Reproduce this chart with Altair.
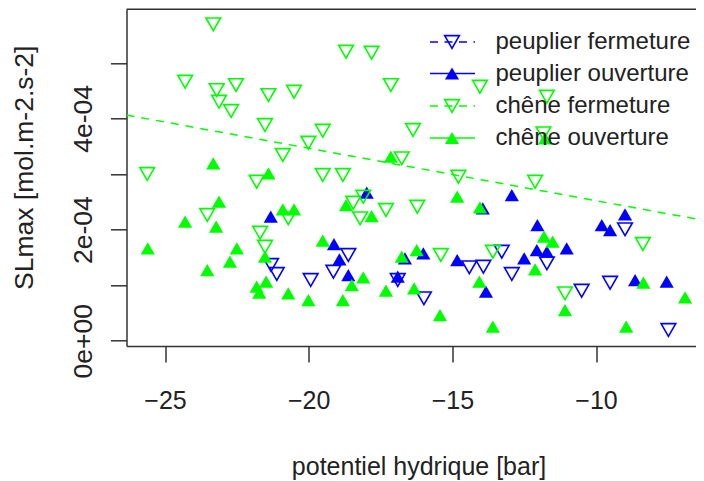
import altair as alt
import pandas as pd

# ---- data (x: potentiel hydrique [bar], y: SLmax [mol.m-2.s-2]) ----
pf_x = [-8.99, -13.28, -14.41, -13.92, -11.71, -12.93, -9.51, -10.50, -15.99, -7.48,
        -21.31, -21.11, -19.93, -19.14, -18.62, -16.90]
pf_y = [2.005e-4, 1.602e-4, 1.321e-4, 1.332e-4, 1.393e-4, 1.200e-4, 1.044e-4, 0.900e-4, 0.763e-4, 0.193e-4,
        1.362e-4, 1.200e-4, 1.092e-4, 1.242e-4, 1.542e-4, 1.092e-4]

po_x = [-12.93, -13.94, -12.04, -9.80, -9.51, -8.99, -11.02, -12.06, -11.71, -12.50, -14.83,
        -16.01, -16.65, -13.83, -8.64, -7.54, -21.32, -17.98, -19.12, -18.93, -18.62, -16.90]
po_y = [2.622e-4, 2.383e-4, 2.082e-4, 2.082e-4, 1.992e-4, 2.275e-4, 1.663e-4, 1.632e-4, 1.602e-4, 1.483e-4, 1.452e-4,
        1.573e-4, 1.483e-4, 0.882e-4, 1.092e-4, 1.062e-4, 2.231e-4, 2.663e-4, 1.740e-4, 1.465e-4, 1.182e-4, 1.152e-4]

cf_x = [-23.32, -18.70, -17.81, -24.30, -23.20, -22.53, -21.40, -20.51, -17.14, -23.12,
        -22.70, -21.52, -19.51, -20.01, -20.90, -16.76, -25.62, -21.81, -19.51, -18.81,
        -16.37, -14.04, -11.71, -11.83, -14.79, -12.12, -16.22, -15.40, -13.59, -8.37,
        -11.08, -23.53, -20.71, -21.69, -21.52, -18.45, -18.10, -18.21, -17.31]
cf_y = [5.694e-4, 5.201e-4, 5.183e-4, 4.661e-4, 4.511e-4, 4.601e-4, 4.421e-4, 4.481e-4, 4.601e-4, 4.301e-4,
        4.134e-4, 3.882e-4, 3.779e-4, 3.563e-4, 3.342e-4, 3.282e-4, 3.000e-4, 2.861e-4, 2.982e-4, 2.982e-4,
        3.792e-4, 4.571e-4, 4.391e-4, 3.732e-4, 2.951e-4, 2.861e-4, 2.411e-4, 1.542e-4, 1.602e-4, 1.740e-4,
        0.853e-4, 2.262e-4, 2.203e-4, 1.943e-4, 1.692e-4, 2.483e-4, 2.591e-4, 2.203e-4, 2.352e-4]

co_x = [-23.32, -21.40, -17.14, -11.77, -14.83, -14.04, -11.81, -11.51, -16.24, -16.76,
        -14.06, -12.12, -16.33, -15.43, -13.59, -11.08, -8.35, -6.90, -8.95, -23.12,
        -24.30, -23.22, -25.60, -22.50, -22.74, -23.53, -20.90, -20.51, -21.52, -21.48,
        -21.81, -21.72, -20.71, -20.01, -19.51, -18.70, -17.81, -18.10, -18.50, -18.81, -17.31]
co_y = [3.192e-4, 3.012e-4, 3.311e-4, 3.642e-4, 2.591e-4, 2.401e-4, 1.872e-4, 1.782e-4, 1.632e-4, 1.512e-4,
        1.062e-4, 1.285e-4, 0.943e-4, 0.462e-4, 0.252e-4, 0.552e-4, 1.044e-4, 0.781e-4, 0.252e-4, 2.501e-4,
        2.141e-4, 2.051e-4, 1.663e-4, 1.663e-4, 1.422e-4, 1.272e-4, 2.365e-4, 2.365e-4, 1.512e-4, 1.062e-4,
        0.972e-4, 0.864e-4, 0.853e-4, 0.732e-4, 1.800e-4, 2.442e-4, 2.244e-4, 1.141e-4, 1.002e-4, 0.732e-4, 0.900e-4]

# regression line (chêne fermeture), read at the plot edges
fit_x = [-26.34, -6.52]
fit_y = [4.062e-4, 2.191e-4]

series_names = ["peuplier fermeture", "peuplier ouverture", "chêne fermeture", "chêne ouverture"]
series_colors = ["#0000ff", "#0000ff", "#00ff00", "#00ff00"]
series_filled = [False, True, False, True]
series_dashed = [True, False, True, False]

x_ticks = [-25, -20, -15, -10]
y_ticks = [0, 1e-4, 2e-4, 3e-4, 4e-4, 5e-4]
y_tick_labels = ["0e+00", "", "2e-04", "", "4e-04", ""]

x_domain = [-26.34, -6.52]
y_domain = [-0.0954e-4, 5.964e-4]

W, H = 569.5, 336.7
FONT = "Liberation Sans"
TXT = "#222222"
AX = "#333333"

label_expr = ""
for v, lab in zip(y_ticks, y_tick_labels):
    label_expr += f"abs(datum.value - ({v})) < 1e-9 ? '{lab}' : "
label_expr += "''"

xs = alt.X("x:Q", scale=alt.Scale(domain=x_domain, nice=False, zero=False),
           axis=alt.Axis(values=x_ticks, title="potentiel hydrique [bar]", grid=False,
                         domainColor=AX, domainWidth=1.5, tickColor=AX, tickWidth=1.5, tickSize=16,
                         labelFont=FONT, labelFontSize=25, labelColor=TXT, labelBaseline="alphabetic",
                         labelPadding=46, labelFlush=False, labelOverlap=False,
                         titleFont=FONT, titleFontSize=25, titleColor=TXT, titleFontWeight="normal",
                         titleBaseline="alphabetic", titleAlign="center", titleX=292, titleY=128))
ys = alt.Y("y:Q", scale=alt.Scale(domain=y_domain, nice=False, zero=False),
           axis=alt.Axis(values=y_ticks, labelExpr=label_expr, title="SLmax [mol.m-2.s-2]", grid=False,
                         domainColor=AX, domainWidth=1.5, tickColor=AX, tickWidth=1.5, tickSize=16,
                         labelFont=FONT, labelFontSize=26.5, labelColor=TXT, labelAngle=270,
                         labelAlign="center", labelBaseline="alphabetic", labelPadding=19.5,
                         labelFlush=False, labelOverlap=False,
                         titleFont=FONT, titleFontSize=26.5, titleColor=TXT, titleFontWeight="normal",
                         titleAngle=270, titleAlign="center", titleBaseline="alphabetic",
                         titleX=-94.5, titleY=158))

layers = []
all_x = [pf_x, po_x, cf_x, co_x]
all_y = [pf_y, po_y, cf_y, co_y]
for i in range(4):
    df = pd.DataFrame({"x": all_x[i], "y": all_y[i]})
    if series_filled[i]:
        m = alt.Chart(df).mark_point(shape="triangle-up", filled=True, size=200, opacity=1,
                                     color=series_colors[i])
    else:
        m = alt.Chart(df).mark_point(shape="triangle-down", filled=False, size=215, strokeWidth=1.6,
                                     opacity=1, color=series_colors[i])
    layers.append(m.encode(x=xs, y=ys))

fit_df = pd.DataFrame({"x": fit_x, "y": fit_y})
layers.append(alt.Chart(fit_df).mark_line(color="#00ff00", strokeWidth=1.5, strokeDash=[8, 7], clip=True)
              .encode(x=xs, y=ys))

one = pd.DataFrame({"a": [0]})
# top frame line
layers.append(alt.Chart(one).mark_rule(color=AX, strokeWidth=1.5)
              .encode(x=alt.value(0), x2=alt.value(W), y=alt.value(0)))

# legend (no box), drawn by hand
leg_rows = [32.7, 64.2, 96.7, 128.7]
for i in range(4):
    yv = leg_rows[i]
    rule_kw = dict(color=series_colors[i], strokeWidth=1.5)
    if series_dashed[i]:
        rule_kw["strokeDash"] = [8, 6.5]
    layers.append(alt.Chart(one).mark_rule(**rule_kw)
                  .encode(x=alt.value(303.5), x2=alt.value(348.5), y=alt.value(yv)))
    if series_filled[i]:
        pm = alt.Chart(one).mark_point(shape="triangle-up", filled=True, size=200, opacity=1,
                                       color=series_colors[i])
    else:
        pm = alt.Chart(one).mark_point(shape="triangle-down", filled=False, size=215, strokeWidth=1.6,
                                       opacity=1, color=series_colors[i])
    layers.append(pm.encode(x=alt.value(325.5), y=alt.value(yv)))
    layers.append(alt.Chart(one).mark_text(text=series_names[i], font=FONT, fontSize=24, color=TXT,
                                           align="left", baseline="middle")
                  .encode(x=alt.value(369), y=alt.value(yv)))

chart = alt.layer(*layers).properties(
    width=W, height=H,
    autosize=alt.AutoSizeParams(type="none"),
    padding={"left": 118.5, "top": 1.3, "right": 0, "bottom": 135},
).configure_view(stroke=None)

chart.save("out.html", embed_options={"renderer": "svg", "actions": False})
